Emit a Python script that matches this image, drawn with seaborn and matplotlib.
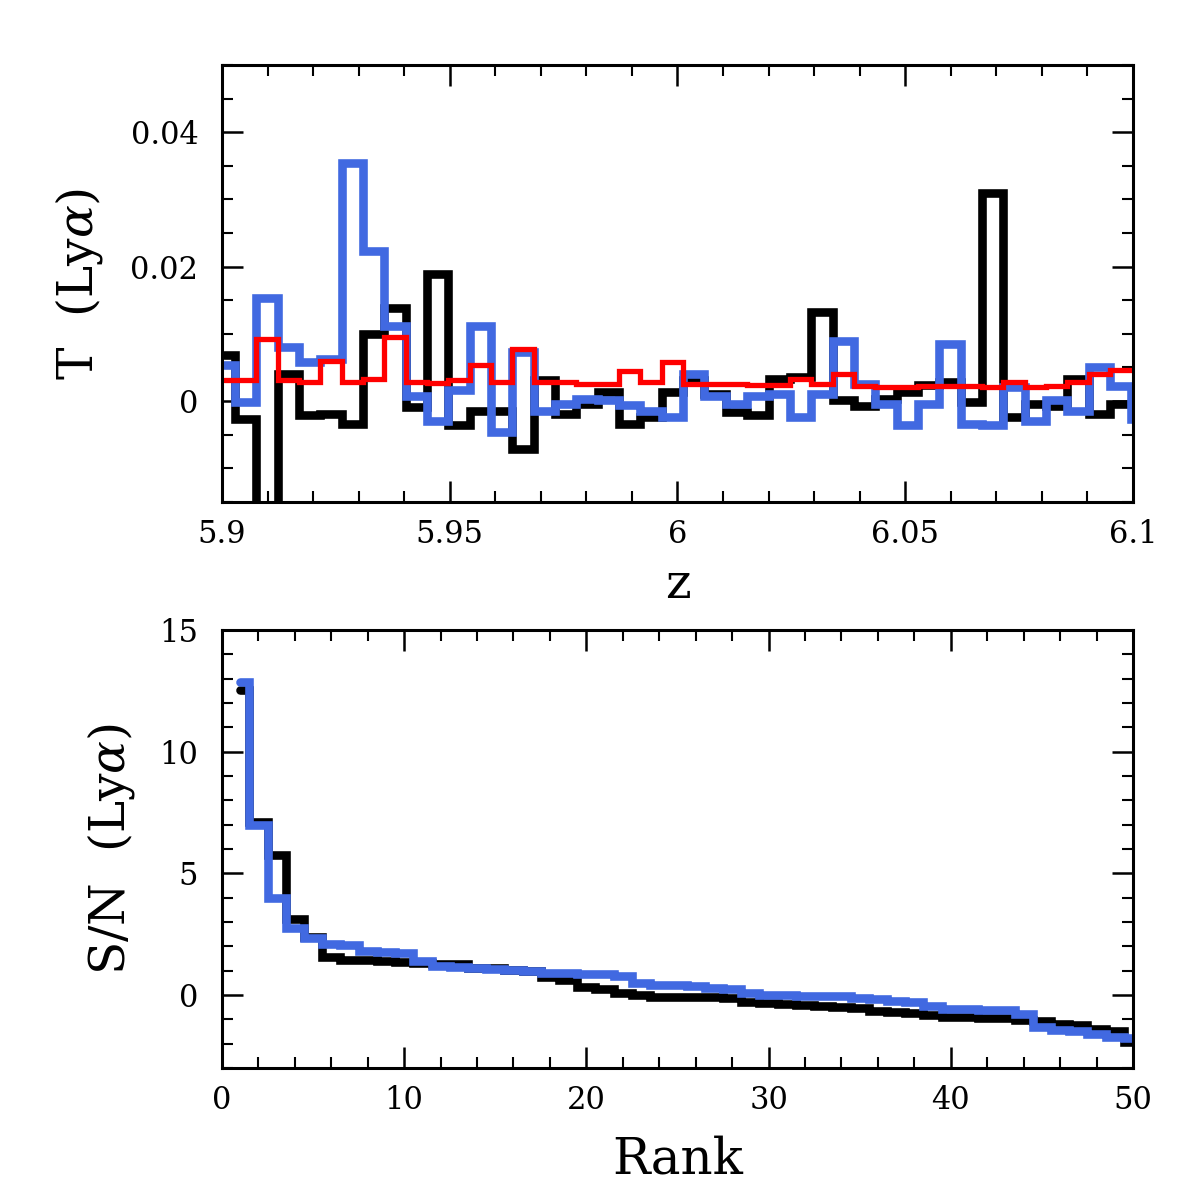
import numpy as np
import pandas as pd
import matplotlib
matplotlib.use("Agg")
import matplotlib.pyplot as plt
from matplotlib.ticker import MultipleLocator, FixedLocator
import seaborn as sns

# ---------------- data: top panel (binned transmission vs redshift) ----------------
z_first_edge = 5.8982
z_bin_width = 0.004684
n_bins = 44
z_mid = z_first_edge + z_bin_width * (np.arange(n_bins) + 0.5)

T_black = [0.0068, -0.0026, -0.0250, 0.0040, -0.0021, -0.0019, -0.0034, 0.0100,
           0.0139, -0.0009, 0.0189, -0.0036, -0.0014, -0.0014, -0.0071, 0.0031,
           -0.0019, -0.0004, 0.0013, -0.0034, -0.0024, 0.0013, 0.0031, 0.0010,
           -0.0016, -0.0021, 0.0033, 0.0036, 0.0133, 0.0001, -0.0007, 0.0003,
           0.0013, 0.0024, 0.0028, -0.0002, 0.0310, -0.0024, -0.0004, -0.0008,
           0.0033, -0.0019, -0.0004, -0.0004]
T_blue = [0.0053, -0.0001, 0.0154, 0.0080, 0.0058, 0.0063, 0.0354, 0.0223,
          0.0112, 0.0008, -0.0029, 0.0016, 0.0112, -0.0046, 0.0073, -0.0014,
          -0.0004, 0.0003, 0.0001, -0.0006, -0.0014, -0.0024, 0.0040, 0.0008,
          -0.0004, 0.0008, 0.0010, -0.0024, 0.0011, 0.0090, 0.0026, -0.0004,
          -0.0036, -0.0004, 0.0085, -0.0034, -0.0036, 0.0021, -0.0029, 0.0001,
          -0.0014, 0.0051, 0.0023, -0.0026]
T_red = [0.0031, 0.0031, 0.0092, 0.0032, 0.0028, 0.0060, 0.0028, 0.0033,
         0.0095, 0.0029, 0.0027, 0.0031, 0.0054, 0.0028, 0.0078, 0.0028,
         0.0029, 0.0026, 0.0026, 0.0045, 0.0028, 0.0058, 0.0026, 0.0026,
         0.0025, 0.0024, 0.0024, 0.0033, 0.0026, 0.0040, 0.0023, 0.0021,
         0.0021, 0.0023, 0.0023, 0.0023, 0.0021, 0.0028, 0.0021, 0.0022,
         0.0028, 0.0040, 0.0047, 0.0047]

# ---------------- data: bottom panel (S/N vs rank) ----------------
rank = np.arange(1, 51)
sn_black = [12.53, 7.12, 5.75, 3.12, 2.38, 1.55, 1.46, 1.44, 1.38, 1.36,
            1.31, 1.29, 1.28, 1.12, 1.10, 1.01, 0.99, 0.75, 0.62, 0.34,
            0.25, 0.08, 0.02, -0.07, -0.08, -0.09, -0.10, -0.11, -0.30, -0.33,
            -0.36, -0.40, -0.45, -0.50, -0.55, -0.66, -0.70, -0.74, -0.82, -0.90,
            -0.91, -0.93, -0.95, -1.03, -1.05, -1.20, -1.25, -1.40, -1.46, -1.92]
sn_blue = [12.88, 6.99, 3.97, 2.74, 2.33, 2.08, 2.05, 1.80, 1.76, 1.72,
           1.40, 1.18, 1.15, 1.10, 1.07, 1.01, 0.98, 0.92, 0.90, 0.88,
           0.86, 0.80, 0.50, 0.40, 0.40, 0.39, 0.28, 0.26, 0.10, 0.02,
           0.00, -0.02, -0.04, -0.06, -0.13, -0.16, -0.24, -0.27, -0.44, -0.56,
           -0.58, -0.60, -0.63, -0.78, -1.30, -1.45, -1.48, -1.62, -1.72, -1.76]

top_df = pd.DataFrame({"z": z_mid, "black": T_black, "blue": T_blue, "red": T_red})
bot_df = pd.DataFrame({"rank": rank, "black": sn_black, "blue": sn_blue})

# ---------------- style ----------------
sns.set_style("ticks")
plt.rcParams["font.family"] = ["DejaVu Serif"]
plt.rcParams["mathtext.fontset"] = "dejavuserif"
plt.rcParams["text.color"] = "black"
plt.rcParams["axes.labelcolor"] = "black"
plt.rcParams["xtick.color"] = "black"
plt.rcParams["ytick.color"] = "black"

BLACK = "#000000"
BLUE = "#4169E1"
RED = "#FF0000"

fig = plt.figure(figsize=(11.96, 11.96), dpi=100)
ax1 = fig.add_axes([0.1856, 0.5803, 0.7617, 0.3654])
ax2 = fig.add_axes([0.1856, 0.1070, 0.7617, 0.3662])

# top panel
sns.lineplot(data=top_df, x="z", y="black", ax=ax1, color=BLACK, linewidth=6.2,
             drawstyle="steps-mid", solid_joinstyle="miter")
sns.lineplot(data=top_df, x="z", y="blue", ax=ax1, color=BLUE, linewidth=6.2,
             drawstyle="steps-mid", solid_joinstyle="miter")
sns.lineplot(data=top_df, x="z", y="red", ax=ax1, color=RED, linewidth=3.8,
             drawstyle="steps-mid", solid_joinstyle="miter")
ax1.set_xlim(5.9, 6.1)
ax1.set_ylim(-0.015, 0.05)
ax1.xaxis.set_major_locator(FixedLocator([5.9, 5.95, 6.0, 6.05, 6.1]))
ax1.set_xticklabels(["5.9", "5.95", "6", "6.05", "6.1"])
ax1.xaxis.set_minor_locator(MultipleLocator(0.01))
ax1.yaxis.set_major_locator(FixedLocator([0.0, 0.02, 0.04]))
ax1.set_yticklabels(["0", "0.02", "0.04"])
ax1.yaxis.set_minor_locator(MultipleLocator(0.005))
ax1.set_xlabel("z", fontsize=35, labelpad=8)
ax1.set_ylabel(r"T  (Ly$\alpha$)", fontsize=35, labelpad=18)

# bottom panel
sns.lineplot(data=bot_df, x="rank", y="black", ax=ax2, color=BLACK, linewidth=6.2,
             drawstyle="steps-mid", solid_joinstyle="miter")
sns.lineplot(data=bot_df, x="rank", y="blue", ax=ax2, color=BLUE, linewidth=6.2,
             drawstyle="steps-mid", solid_joinstyle="miter")
ax2.set_xlim(0, 50)
ax2.set_ylim(-3, 15)
ax2.xaxis.set_major_locator(MultipleLocator(10))
ax2.xaxis.set_minor_locator(MultipleLocator(2))
ax2.yaxis.set_major_locator(FixedLocator([0, 5, 10, 15]))
ax2.yaxis.set_minor_locator(MultipleLocator(1))
ax2.set_xlabel("Rank", fontsize=36, labelpad=14)
ax2.set_ylabel(r"S/N  (Ly$\alpha$)", fontsize=35, labelpad=16)

for ax in (ax1, ax2):
    for sp in ax.spines.values():
        sp.set_linewidth(2.2)
        sp.set_color("black")
        sp.set_visible(True)
    ax.tick_params(which="both", direction="in", top=True, right=True,
                   colors="black", labelsize=22)
    ax.tick_params(which="major", length=15, width=1.8)
    ax.tick_params(which="minor", length=8, width=1.5)
    ax.tick_params(axis="x", which="major", pad=12)
    ax.tick_params(axis="y", which="major", pad=17)

fig.savefig("out.png", dpi=100)
